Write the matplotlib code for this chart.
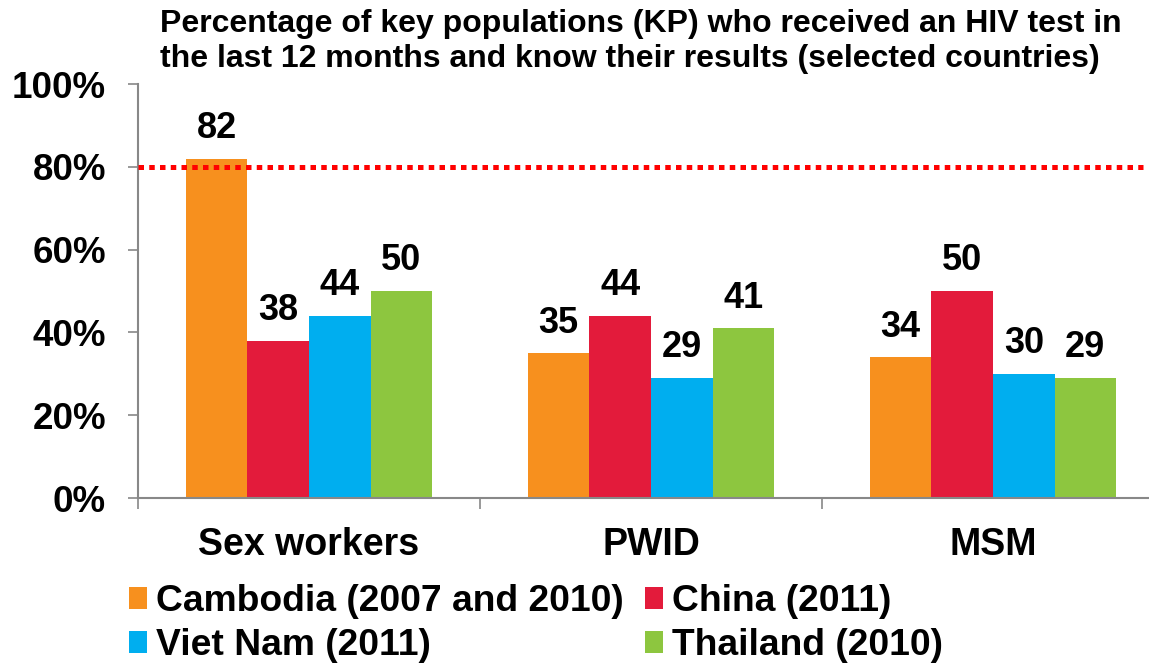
import numpy as np
import matplotlib
matplotlib.use('Agg')
import matplotlib.pyplot as plt
from matplotlib.ticker import FixedLocator, PercentFormatter

plt.rcParams['font.family'] = ['Liberation Sans', 'DejaVu Sans']
plt.rcParams['font.weight'] = 'bold'

groups = ['Sex workers', 'PWID', 'MSM']
countries = ['Cambodia (2007 and 2010)', 'China (2011)', 'Viet Nam (2011)', 'Thailand (2010)']
values = {
    'Cambodia (2007 and 2010)': [82, 35, 34],
    'China (2011)': [38, 44, 50],
    'Viet Nam (2011)': [44, 29, 30],
    'Thailand (2010)': [50, 41, 29],
}
colors = ['#F7901E', '#E31B3B', '#00AEEF', '#8DC63F']
target = 80

W, H = 1149, 663
fig = plt.figure(figsize=(W / 100, H / 100), dpi=100)
ax = fig.add_axes([138 / W, 165 / H, 1026 / W, 414 / H])

x = np.arange(len(groups))
bw = 0.18
bars = {}
for i, (c, col) in enumerate(zip(countries, colors)):
    b = ax.bar(x + (i - 1.5) * bw, values[c], bw, color=col, label=c)
    ax.bar_label(b, fmt='%d', padding=9, fontsize=26, fontweight='bold')
    bars[c] = b

# 80% target line
ax.axhline(target, xmax=0.98, color='#FF0000', lw=3.6, ls=(0, (1.1, 1.05)), zorder=3)

ax.set_xlim(-0.5, 2.5)
ax.set_ylim(0, 100)
ax.yaxis.set_major_locator(FixedLocator([0, 20, 40, 60, 80, 100]))
ax.yaxis.set_major_formatter(PercentFormatter(decimals=0))
ax.set_xticks(x)
ax.set_xticklabels(groups)
ax.xaxis.set_minor_locator(FixedLocator([-0.5, 0.5, 1.5, 2.5]))
ax.tick_params(axis='x', which='major', length=0, pad=21, labelsize=27)
ax.tick_params(axis='x', which='minor', length=8, color='#888888', width=1.2)
ax.tick_params(axis='y', length=7, color='#888888', width=1.2, labelsize=26.5, pad=16)
for lbl in ax.get_xticklabels() + ax.get_yticklabels():
    lbl.set_fontweight('bold')
for s in ['top', 'right']:
    ax.spines[s].set_visible(False)
for s in ['left', 'bottom']:
    ax.spines[s].set_color('#888888')
    ax.spines[s].set_linewidth(1.5)

fig.text(160 / W, 1 - 9 / H,
         'Percentage of key populations (KP) who received an HIV test in\n'
         'the last 12 months and know their results (selected countries)',
         ha='left', va='top', fontsize=23, fontweight='bold', linespacing=1.2)

order = [0, 2, 1, 3]
handles = [bars[countries[i]] for i in order]
labels = [countries[i] for i in order]
fig.legend(handles, labels, ncol=2, loc='upper left', bbox_to_anchor=(129 / W, 1 - 584 / H),
           frameon=False, borderpad=0, borderaxespad=0, handlelength=0.49, handleheight=0.51,
           handletextpad=0.24, columnspacing=0.57, labelspacing=0.25,
           prop={'weight': 'bold', 'size': 26.8})

fig.savefig('out.png', dpi=100)
